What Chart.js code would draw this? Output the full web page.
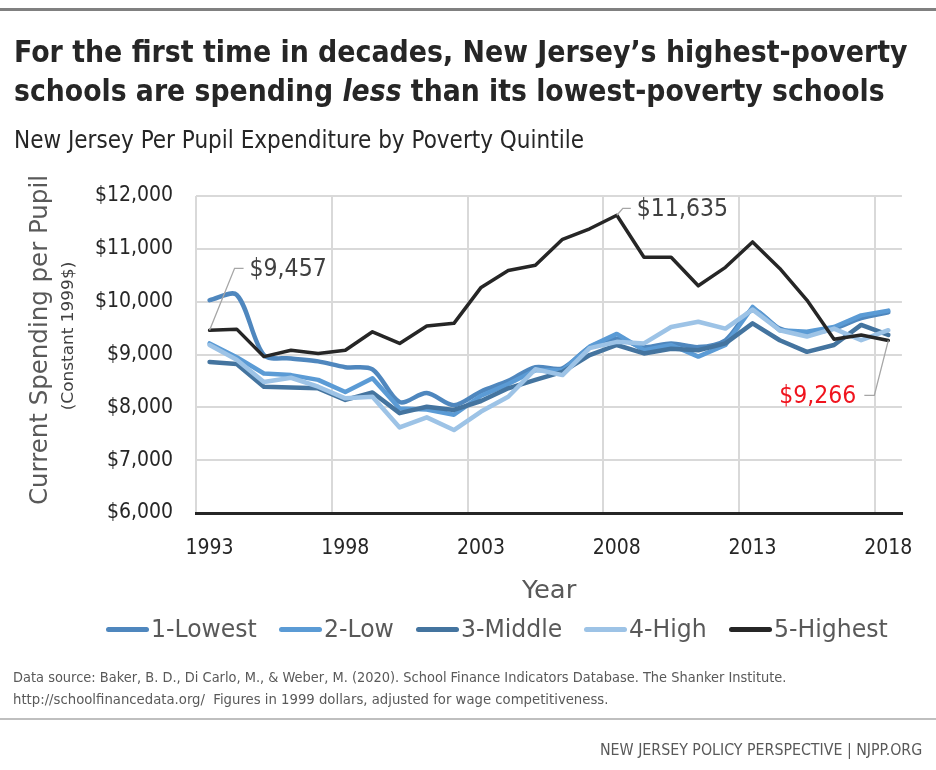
<!DOCTYPE html>
<html><head><meta charset="utf-8">
<script src="https://cdn.jsdelivr.net/npm/chart.js@4.4.1/dist/chart.umd.min.js"></script>
<style>
html,body{margin:0;padding:0;background:#fff;}
body{width:936px;height:770px;position:relative;overflow:hidden;font-family:"Liberation Sans Narrow","DejaVu Sans Condensed",Roboto,sans-serif;}
#c{position:absolute;left:0;top:0;z-index:0;}
.t{position:absolute;white-space:nowrap;line-height:1;z-index:1;transform-origin:0 0;}
.rule{position:absolute;left:0;width:936px;z-index:1;}
#legend .sw{position:absolute;height:5px;border-radius:3px;width:43px;z-index:1;}
</style></head>
<body>
<div class="rule" style="top:8px;height:3px;background:#808080;"></div>
<div class="t" id="title1" data-x="14" data-w="894" style="top:36px;font-size:31px;font-weight:700;color:#262626;">For the first time in decades, New Jersey’s highest-poverty</div>
<div class="t" id="title2" data-x="14" data-w="871" style="top:75px;font-size:31px;font-weight:700;color:#262626;">schools are spending <i>less</i> than its lowest-poverty schools</div>
<div class="t" id="subtitle" data-x="14" data-w="570" style="top:128px;font-size:24px;color:#262626;">New Jersey Per Pupil Expenditure by Poverty Quintile</div>
<canvas id="c" width="936" height="770"></canvas>
<div class="t" id="ytitle" style="font-size:25px;color:#595959;">Current Spending per Pupil</div>
<div class="t" id="ysub" style="font-size:15px;color:#404040;">(Constant 1999$)</div>
<div class="t" id="xtitle" data-cx="549" data-w="54" style="top:577px;font-size:25px;color:#595959;">Year</div>
<div id="legend"></div>
<div class="t" id="foot1" data-x="13" data-w="773" style="top:670px;font-size:14.5px;color:#595959;">Data source: Baker, B. D., Di Carlo, M., &amp; Weber, M. (2020). School Finance Indicators Database. The Shanker Institute.</div>
<div class="t" id="foot2" data-x="13" data-w="595" style="top:692px;font-size:14.5px;color:#595959;">http://schoolfinancedata.org/&nbsp; Figures in 1999 dollars, adjusted for wage competitiveness.</div>
<div class="rule" style="top:718px;height:2px;background:#bfbfbf;"></div>
<div class="t" id="brand" data-x="600" data-w="322" style="top:743px;font-size:15px;color:#595959;">NEW JERSEY POLICY PERSPECTIVE | NJPP.ORG</div>
<script>
// ---- data ----
const years = ['1993','1994','1995','1996','1997','1998','1999','2000','2001','2002','2003','2004','2005','2006','2007','2008','2009','2010','2011','2012','2013','2014','2015','2016','2017','2018'];
const tickYears = ['1993','1998','2003','2008','2013','2018'];
const yTickValues = [6000,7000,8000,9000,10000,11000,12000];
const seriesNames = ['1-Lowest','2-Low','3-Middle','4-High','5-Highest'];
const lowest  = [10029,10130,8990,8925,8870,8760,8720,8100,8270,8040,8300,8500,8760,8740,9140,9300,9140,9210,9140,9270,9840,9490,9400,9490,9690,9800];
const low     = [9210,8950,8640,8610,8520,8290,8550,7980,7960,7860,8220,8440,8700,8700,9150,9390,9080,9180,8960,9180,9900,9460,9430,9520,9740,9830];
const middle  = [8860,8820,8390,8375,8360,8140,8280,7890,8010,7950,8120,8360,8520,8670,8990,9180,9020,9110,9080,9210,9590,9270,9050,9180,9560,9370];
const high    = [9180,8900,8480,8560,8390,8170,8200,7620,7810,7570,7920,8200,8720,8610,9120,9240,9210,9520,9620,9490,9850,9460,9340,9490,9270,9460];
const highest = [9457,9480,8960,9080,9020,9080,9430,9210,9540,9590,10270,10590,10690,11180,11380,11635,10840,10840,10300,10650,11130,10630,10030,9290,9370,9266];
const seriesData = [lowest, low, middle, high, highest];
const seriesColors = ['#4f87be','#5b9bd5','#44749f','#9dc3e6','#262626'];
const seriesWidths = [4.5,4.5,4.5,4.5,3.5];
const seriesTension = [0.3,0,0,0,0];
// annotated points (series index, year)
const callouts = [
  {series:4, year:'1993', color:'#404040', path:[[25,-62],[34,-62]], dx:40, align:'left'},
  {series:4, year:'2008', color:'#404040', path:[[6,-7],[14,-7]], dx:20, align:'left'},
  {series:4, year:'2018', color:'#f0141e', path:[[-14,55],[-24,55]], dx:-32, align:'right'}
];

// ---- font pick ----
function available(f){
  const c=document.createElement('canvas').getContext('2d');
  const s='abcdefghijklmnopqrstuvwxyz0123456789$,ABCDEFGHIJ';
  let diff=false;
  ['monospace','serif'].forEach(g=>{
    c.font='40px '+g; const a=c.measureText(s).width;
    c.font='40px "'+f+'", '+g; const b=c.measureText(s).width;
    if(Math.abs(a-b)>0.5) diff=true;
  });
  return diff;
}
const FAM = ['Liberation Sans Narrow','DejaVu Sans Condensed','Roboto Condensed','Roboto','Liberation Sans'].find(available) || 'sans-serif';
document.body.style.fontFamily = '"'+FAM+'", sans-serif';

// ---- chart ----
const calloutPlugin = {
  id:'callouts',
  afterDatasetsDraw(chart){
    const ctx=chart.ctx, xs=chart.scales.x, ys=chart.scales.y;
    callouts.forEach(a=>{
      const i=years.indexOf(a.year);
      const v=seriesData[a.series][i];
      const px=xs.getPixelForValue(i), py=ys.getPixelForValue(v);
      ctx.save();
      ctx.strokeStyle='#a6a6a6'; ctx.lineWidth=1.3;
      ctx.beginPath(); ctx.moveTo(px,py);
      a.path.forEach(p=>ctx.lineTo(px+p[0],py+p[1]));
      ctx.stroke();
      const ly=py+a.path[a.path.length-1][1];
      ctx.font='24.5px "'+FAM+'"';
      ctx.fillStyle=a.color; ctx.textAlign=a.align; ctx.textBaseline='middle';
      ctx.fillText('$'+v.toLocaleString('en-US'), px+a.dx, ly+1);
      ctx.restore();
    });
  }
};

new Chart(document.getElementById('c'), {
  type:'line',
  data:{
    labels:years,
    datasets:seriesNames.map((n,k)=>({
      label:n, data:seriesData[k], borderColor:seriesColors[k], backgroundColor:seriesColors[k],
      borderWidth:seriesWidths[k], pointRadius:0, pointHoverRadius:0, tension:seriesTension[k],
      order:4-k, borderCapStyle:'round', borderJoinStyle:'round', fill:false
    }))
  },
  options:{
    responsive:false, animation:false, devicePixelRatio:1,
    layout:{padding:{left:0, top:196, right:33, bottom:207}},
    plugins:{legend:{display:false}, tooltip:{enabled:false}, title:{display:false}},
    scales:{
      x:{
        type:'category', offset:true,
        grid:{offset:true, drawTicks:false, lineWidth:2, color:c=> (c.index%5===0 && c.index<years.length) ? '#d9d9d9' : 'rgba(0,0,0,0)'},
        border:{display:true, color:'#262626', width:3},
        ticks:{autoSkip:false, maxRotation:0, minRotation:0, padding:23, color:'#262626',
          font:{family:FAM, size:21},
          callback:(v,i)=> tickYears.includes(years[i]) ? years[i] : ''},
        afterFit:s=>{s.height=50;}
      },
      y:{
        min:6000, max:12000,
        afterBuildTicks:s=>{s.ticks=yTickValues.map(v=>({value:v}));},
        grid:{drawTicks:false, lineWidth:2, color:c=> (c.tick && c.tick.value===6000) ? 'rgba(0,0,0,0)' : '#d9d9d9'},
        border:{display:false},
        ticks:{padding:23, color:'#262626', font:{family:FAM, size:21},
          callback:v=>'$'+Number(v).toLocaleString('en-US')},
        afterFit:s=>{s.width=196;}
      }
    }
  },
  plugins:[calloutPlugin]
});

// ---- text fitting ----
function fitLeft(el){
  const x=+el.dataset.x, w=+el.dataset.w;
  const s=w/el.offsetWidth;
  el.style.left=x+'px'; el.style.transform='scaleX('+s+')';
}
['title1','title2','subtitle','foot1','foot2','brand'].forEach(id=>fitLeft(document.getElementById(id)));
(function(){
  const el=document.getElementById('xtitle');
  const cx=+el.dataset.cx, w=+el.dataset.w;
  const s=w/el.offsetWidth;
  el.style.left=(cx-w/2)+'px'; el.style.transform='scaleX('+s+')';
})();
function rot(id,cx,cy,len){
  const el=document.getElementById(id);
  const s=len/el.offsetWidth;
  el.style.left=cx+'px'; el.style.top=cy+'px';
  el.style.transform='rotate(-90deg) scaleX('+s+') translate(-50%,-50%)';
}
rot('ytitle',38,340,330);
rot('ysub',68,336,148);

// ---- legend ----
(function(){
  const lg=document.getElementById('legend');
  const texts=[];
  seriesNames.forEach((n,k)=>{
    const t=document.createElement('div');
    t.className='t'; t.textContent=n;
    t.style.fontSize='24px'; t.style.color='#595959'; t.style.top='617px';
    lg.appendChild(t); texts.push(t);
  });
  const sum=texts.reduce((a,t)=>a+t.offsetWidth,0);
  const s=468/sum;
  let x=106;
  seriesNames.forEach((n,k)=>{
    const sw=document.createElement('div');
    sw.className='sw'; sw.style.left=x+'px'; sw.style.top='627px'; sw.style.background=seriesColors[k];
    lg.appendChild(sw);
    x+=45;
    const t=texts[k];
    t.style.left=x+'px'; t.style.transform='scaleX('+s+')';
    x+=t.offsetWidth*s+22;
  });
})();
</script>
</body></html>
